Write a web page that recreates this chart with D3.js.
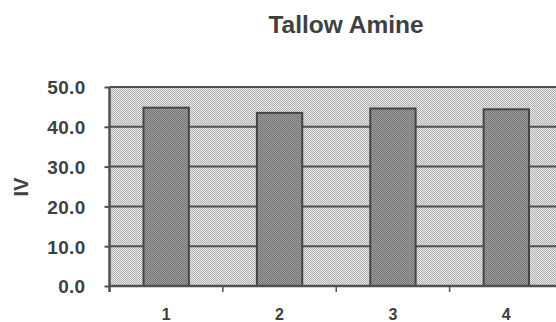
<!DOCTYPE html>
<html><head><meta charset="utf-8">
<script src="https://cdn.jsdelivr.net/npm/d3@7"></script>
<style>
body{margin:0;background:#fff;}
svg{display:block;}
text{font-family:"Liberation Sans",Arial,Helvetica,sans-serif;font-weight:bold;fill:#404040;}
</style></head><body>
<svg id="c" width="556" height="322"></svg>
<script>
const title = "Tallow Amine";
const yLabel = "IV";
const categories = ["1","2","3","4"];
const values = [44.8, 43.5, 44.6, 44.4];
const yTicks = [0,10,20,30,40,50];

const svg = d3.select("#c");
const defs = svg.append("defs");
function checker(id, light, dark){
  const p = defs.append("pattern").attr("id",id).attr("width",2).attr("height",2)
    .attr("patternUnits","userSpaceOnUse");
  p.append("rect").attr("width",2).attr("height",2).attr("fill",light);
  p.append("rect").attr("width",1).attr("height",1).attr("fill",dark);
  p.append("rect").attr("x",1).attr("y",1).attr("width",1).attr("height",1).attr("fill",dark);
}
checker("bgp","#e8e8e8","#b0b0b0");
checker("barp","#a0a0a0","#727272");

const x = d3.scaleBand().domain(categories).range([109.5,563]).paddingInner(0.6).paddingOuter(0.3);
const y = d3.scaleLinear().domain([0,50]).range([286,87]);
const x0 = 109.5, x1 = 563;

// plot background
svg.append("rect").attr("x",x0).attr("y",y(50)).attr("width",x1-x0).attr("height",y(0)-y(50))
  .attr("fill","url(#bgp)");

// gridlines
svg.append("g").selectAll("line").data(yTicks).join("line")
  .attr("x1",x0).attr("x2",x1).attr("y1",d=>y(d)).attr("y2",d=>y(d))
  .attr("stroke","#505050").attr("stroke-width",2);

// bars
svg.append("g").selectAll("rect").data(categories).join("rect")
  .attr("x",d=>x(d)).attr("width",x.bandwidth())
  .attr("y",(d,i)=>y(values[i])).attr("height",(d,i)=>y(0)-y(values[i]))
  .attr("fill","url(#barp)").attr("stroke","#454545").attr("stroke-width",2);

// y axis
const ya = svg.append("g").attr("transform",`translate(${x0},0)`)
  .call(d3.axisLeft(y).tickValues(yTicks).tickFormat(d3.format(".1f")).tickSize(5).tickPadding(19));
ya.select(".domain").attr("stroke","#505050").attr("stroke-width",2.5).attr("d",`M0,${y(50)}V${y(0)+6}`);
ya.selectAll(".tick line").attr("stroke","#505050").attr("stroke-width",2);
ya.selectAll(".tick text").style("font-size","19px").style("letter-spacing","0.3px")
  .attr("fill","#404040").attr("dy","0.36em");

// x axis
const xa = svg.append("g").attr("transform",`translate(0,${y(0)})`)
  .call(d3.axisBottom(x).tickSize(0).tickPadding(0));
xa.select(".domain").attr("stroke","#505050").attr("stroke-width",2.5).attr("d",`M${x0},0H${x1}`);
xa.selectAll(".tick text").style("font-size","16px").attr("fill","#404040")
  .attr("dy",null).attr("y",34);
// boundary ticks between categories
const bounds = categories.slice(1).map(c => x(c) - x.step()*x.paddingInner()/2);
svg.append("g").selectAll("line").data(bounds).join("line")
  .attr("x1",d=>d).attr("x2",d=>d).attr("y1",y(0)).attr("y2",y(0)+6)
  .attr("stroke","#505050").attr("stroke-width",1.5);

// title
svg.append("text").attr("x",346).attr("y",33).attr("text-anchor","middle")
  .style("font-size","24.5px").text(title);
// y label
svg.append("text").attr("transform","translate(28,187) rotate(-90)").attr("text-anchor","middle")
  .style("font-size","20px").text(yLabel);
</script></body></html>
